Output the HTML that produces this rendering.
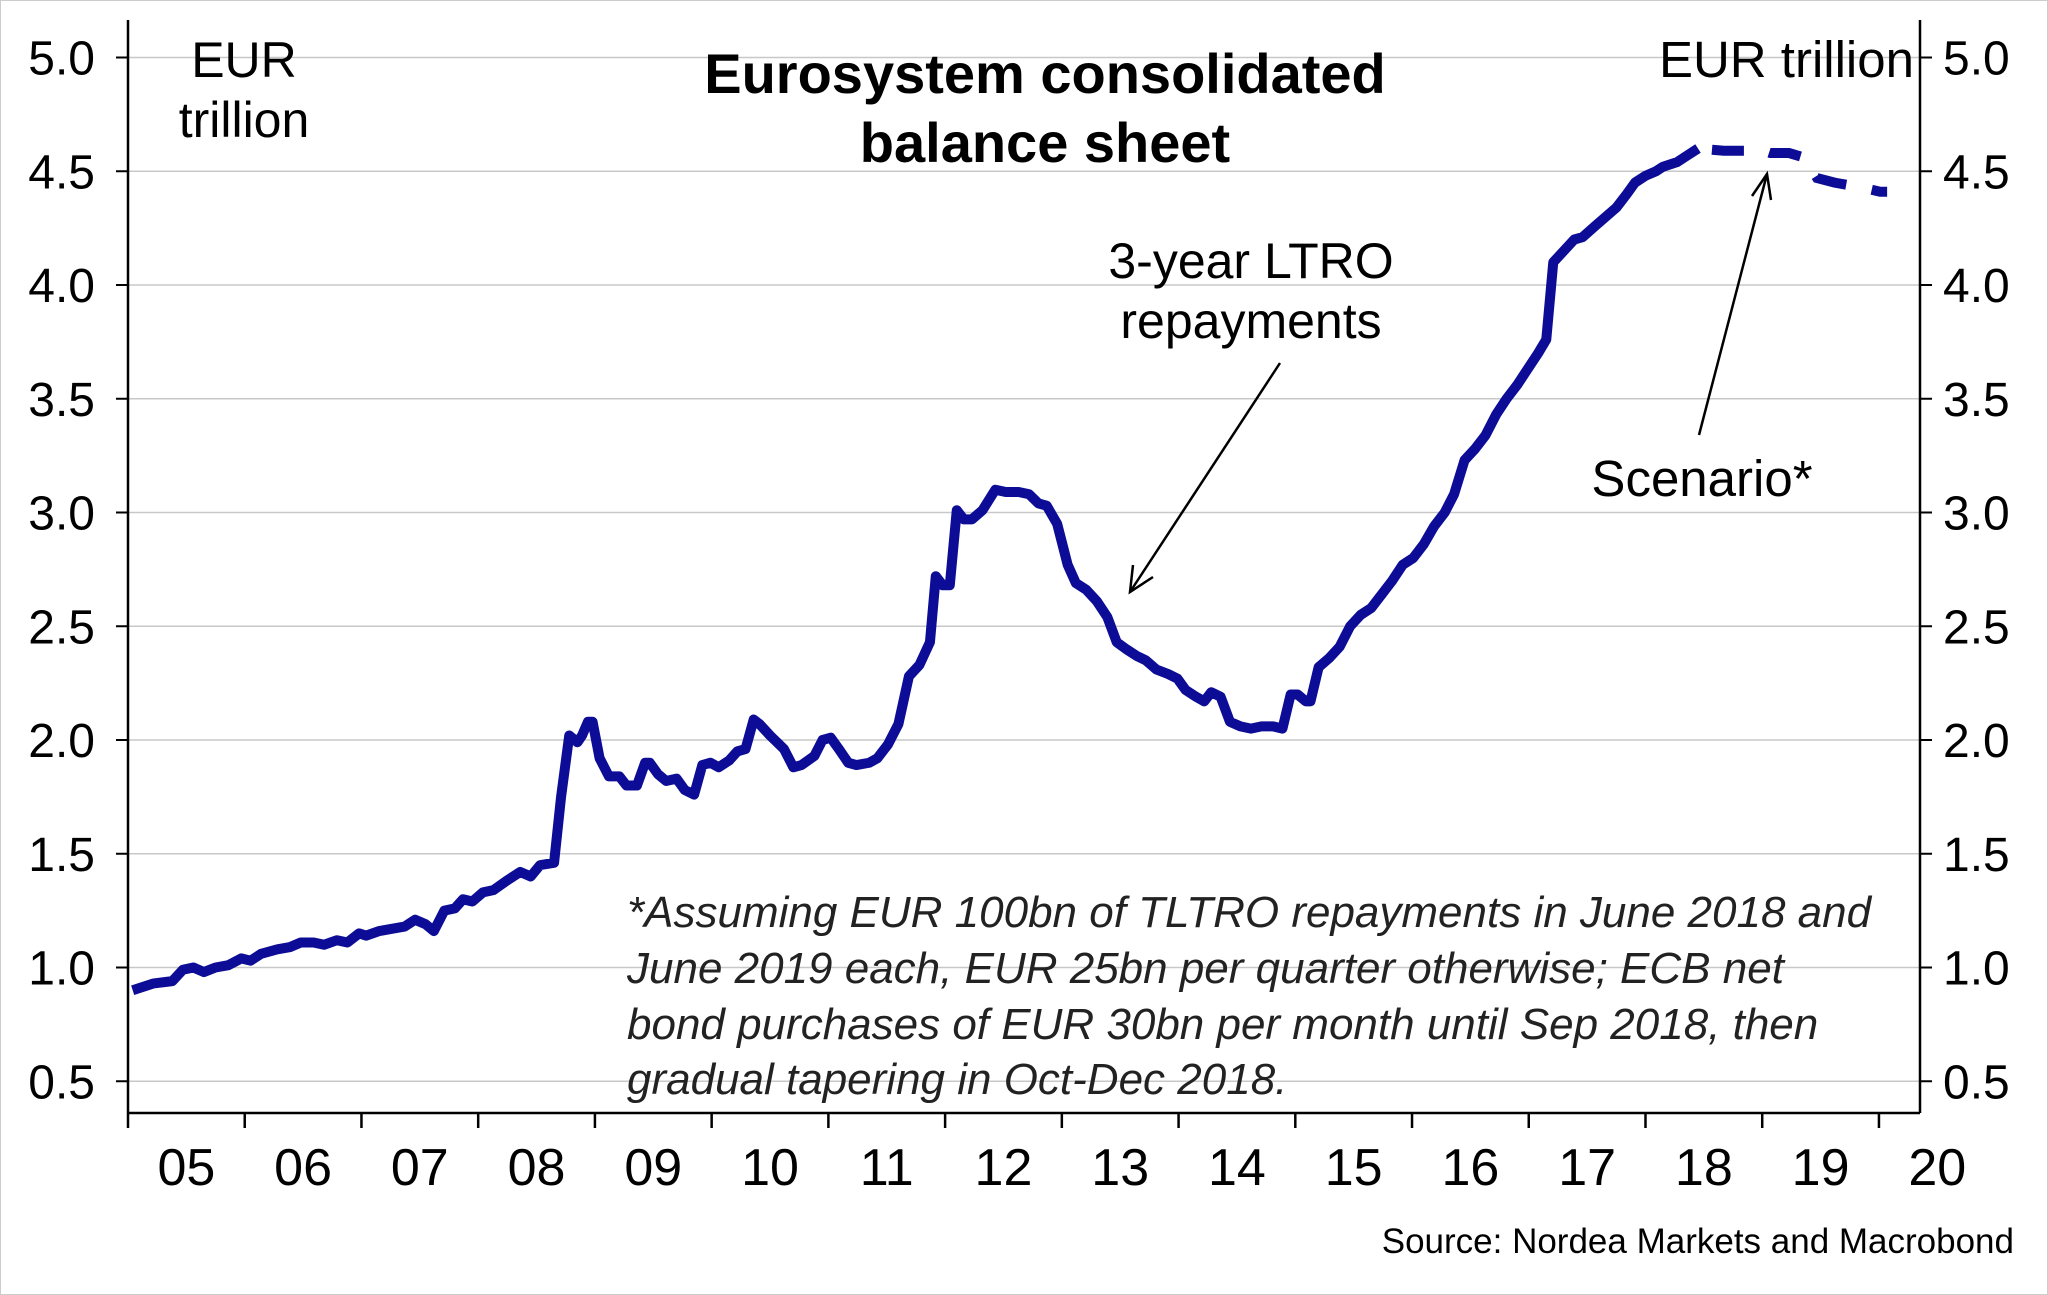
<!DOCTYPE html>
<html><head><meta charset="utf-8"><style>
html,body{margin:0;padding:0;background:#fff;}
svg{display:block;font-family:"Liberation Sans",sans-serif;}
</style></head><body>
<svg id="chart" width="2048" height="1295" viewBox="0 0 2048 1295" xmlns="http://www.w3.org/2000/svg">
<rect x="0.5" y="0.5" width="2047" height="1294" fill="#fff" stroke="#ccc"/>
<g id="grid"></g><g id="axes"></g><g id="series"></g>
<text x="1045" y="93" text-anchor="middle" font-size="56" font-weight="bold">Eurosystem consolidated</text>
<text x="1045" y="162" text-anchor="middle" font-size="56" font-weight="bold">balance sheet</text>
<text x="244" y="77" text-anchor="middle" font-size="50">EUR</text>
<text x="244" y="137" text-anchor="middle" font-size="50">trillion</text>
<text x="1914" y="77" text-anchor="end" font-size="51">EUR trillion</text>
<text x="1251" y="278" text-anchor="middle" font-size="50">3-year LTRO</text>
<text x="1251" y="338" text-anchor="middle" font-size="50">repayments</text>
<g stroke="#000" stroke-width="2.5" fill="none">
<line x1="1280" y1="363" x2="1130" y2="592"/><polyline points="1133,565 1130,592 1153,577"/></g>
<text x="1702" y="496" text-anchor="middle" font-size="51">Scenario*</text>
<g stroke="#000" stroke-width="2.5" fill="none">
<line x1="1699" y1="435" x2="1767" y2="174"/><polyline points="1752,196 1767,174 1771,200"/></g>
<g font-size="44" font-style="italic" fill="#222">
<text x="627" y="927">*Assuming EUR 100bn of TLTRO repayments in June 2018 and</text>
<text x="627" y="983">June 2019 each, EUR 25bn per quarter otherwise; ECB net</text>
<text x="627" y="1039">bond purchases of EUR 30bn per month until Sep 2018, then</text>
<text x="627" y="1094">gradual tapering in Oct-Dec 2018.</text></g>
<text x="2014" y="1253" text-anchor="end" font-size="35">Source: Nordea Markets and Macrobond</text>
</svg>
<script>
const yTicks=[0.5,1.0,1.5,2.0,2.5,3.0,3.5,4.0,4.5,5.0];
const yearLabels=["05","06","07","08","09","10","11","12","13","14","15","16","17","18","19","20"];
const histDates=[2005.04,2005.22,2005.38,2005.47,2005.56,2005.65,2005.75,2005.86,2005.97,2006.05,2006.14,2006.28,2006.39,2006.48,2006.59,2006.68,2006.79,2006.88,2006.98,2007.04,2007.15,2007.26,2007.37,2007.46,2007.55,2007.62,2007.71,2007.80,2007.87,2007.95,2008.04,2008.13,2008.24,2008.36,2008.45,2008.53,2008.65,2008.71,2008.78,2008.85,2008.89,2008.94,2008.98,2009.04,2009.12,2009.21,2009.27,2009.36,2009.43,2009.47,2009.54,2009.61,2009.70,2009.77,2009.85,2009.92,2009.99,2010.06,2010.15,2010.22,2010.29,2010.36,2010.41,2010.50,2010.62,2010.70,2010.77,2010.88,2010.95,2011.02,2011.09,2011.17,2011.24,2011.35,2011.42,2011.51,2011.60,2011.69,2011.78,2011.87,2011.92,2011.98,2012.04,2012.10,2012.16,2012.23,2012.32,2012.43,2012.52,2012.63,2012.72,2012.80,2012.87,2012.96,2013.05,2013.12,2013.21,2013.30,2013.39,2013.47,2013.55,2013.64,2013.72,2013.81,2013.91,2013.99,2014.06,2014.15,2014.22,2014.28,2014.36,2014.44,2014.53,2014.62,2014.71,2014.81,2014.89,2014.96,2015.02,2015.09,2015.13,2015.20,2015.29,2015.38,2015.47,2015.56,2015.65,2015.74,2015.83,2015.92,2016.01,2016.10,2016.19,2016.28,2016.36,2016.45,2016.54,2016.63,2016.72,2016.81,2016.90,2016.99,2017.08,2017.15,2017.21,2017.30,2017.39,2017.46,2017.57,2017.66,2017.75,2017.84,2017.91,2018.00,2018.09,2018.15,2018.27,2018.36,2018.45];
const histValues=[0.90,0.93,0.94,0.99,1.00,0.98,1.00,1.01,1.04,1.03,1.06,1.08,1.09,1.11,1.11,1.10,1.12,1.11,1.15,1.14,1.16,1.17,1.18,1.21,1.19,1.16,1.25,1.26,1.30,1.29,1.33,1.34,1.38,1.42,1.40,1.45,1.46,1.75,2.02,1.99,2.02,2.08,2.08,1.92,1.84,1.84,1.80,1.80,1.90,1.90,1.85,1.82,1.83,1.78,1.76,1.89,1.90,1.88,1.91,1.95,1.96,2.09,2.07,2.02,1.96,1.88,1.89,1.93,2.00,2.01,1.96,1.90,1.89,1.90,1.92,1.98,2.07,2.28,2.33,2.43,2.72,2.68,2.68,3.01,2.97,2.97,3.01,3.10,3.09,3.09,3.08,3.04,3.03,2.95,2.77,2.69,2.66,2.61,2.54,2.43,2.40,2.37,2.35,2.31,2.29,2.27,2.22,2.19,2.17,2.21,2.19,2.08,2.06,2.05,2.06,2.06,2.05,2.20,2.20,2.17,2.17,2.32,2.36,2.41,2.50,2.55,2.58,2.64,2.70,2.77,2.80,2.86,2.94,3.00,3.08,3.23,3.28,3.34,3.43,3.50,3.56,3.63,3.70,3.76,4.10,4.15,4.20,4.21,4.26,4.30,4.34,4.40,4.45,4.48,4.50,4.52,4.54,4.57,4.60];
const scenDates=[2018.45,2018.67,2018.85,2018.95,2019.07,2019.23,2019.36,2019.47,2019.62,2019.84,2020.01,2020.07];
const scenValues=[4.60,4.59,4.59,4.60,4.58,4.58,4.56,4.47,4.45,4.43,4.41,4.41];

const NS="http://www.w3.org/2000/svg";
const L=128,R=1920,T=57.5,B=1113;
const xs=t=>128+(t-2005)*116.73;
const ys=v=>57.5+(5-v)*227.5;
function mk(tag,attrs,parent,txt){const e=document.createElementNS(NS,tag);for(const k in attrs)e.setAttribute(k,attrs[k]);if(txt!==undefined)e.textContent=txt;parent.appendChild(e);return e;}
const grid=document.getElementById('grid'),axes=document.getElementById('axes'),series=document.getElementById('series');
yTicks.forEach(v=>{
  const y=ys(v);
  const g=mk('line',{x1:L,x2:R,y1:y,y2:y,stroke:'#c8c8c8','stroke-width':1.5},grid);
  
  
  mk('line',{x1:L-12,x2:L,y1:y,y2:y,stroke:'#000','stroke-width':2},axes);
  mk('line',{x1:R,x2:R+12,y1:y,y2:y,stroke:'#000','stroke-width':2},axes);
  const lt=mk('text',{x:95,y:y+17,'text-anchor':'end','font-size':48},axes,v.toFixed(1));
  
  
  const rt=mk('text',{x:1943,y:y+17,'font-size':48},axes,v.toFixed(1));
  
  
});
const la=mk('line',{x1:L,x2:L,y1:20,y2:B,stroke:'#000','stroke-width':2.5},axes);


const ra=mk('line',{x1:R,x2:R,y1:20,y2:B,stroke:'#000','stroke-width':2.5},axes);


const xa=mk('line',{x1:L,x2:R,y1:B,y2:B,stroke:'#000','stroke-width':2.5},axes);


yearLabels.forEach((lab,i)=>{
  const x=xs(2005+i);
  mk('line',{x1:x,x2:x,y1:B,y2:B+15,stroke:'#000','stroke-width':2.5},axes);
  const t=mk('text',{x:xs(2005.5+i),y:1185,'text-anchor':'middle','font-size':52},axes,lab);
  
  
});
const hp=mk('polyline',{points:histDates.map((d,i)=>xs(d)+','+ys(histValues[i])).join(' '),fill:'none',stroke:'#0c0c96','stroke-width':10,'stroke-linejoin':'round'},series);


const sp=mk('polyline',{points:scenDates.map((d,i)=>xs(d)+','+ys(scenValues[i])).join(' '),fill:'none',stroke:'#0c0c96','stroke-width':10,'stroke-dasharray':'32 26','stroke-dashoffset':'-14'},series);


</script>
</body></html>
